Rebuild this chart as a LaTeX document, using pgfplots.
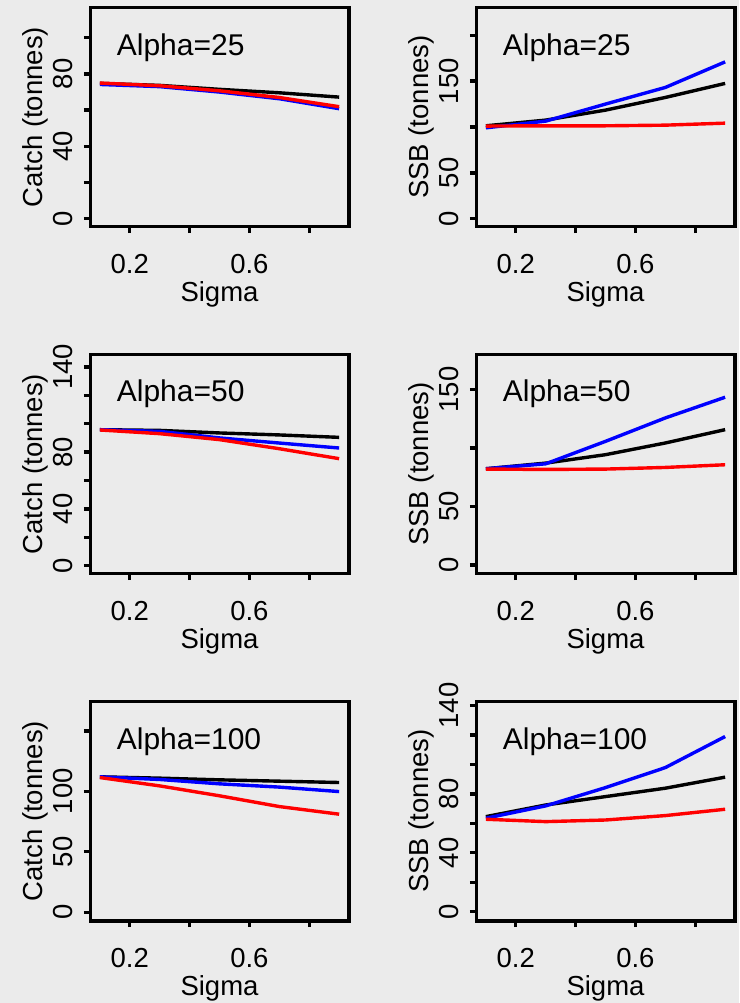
\documentclass[border=0pt]{standalone}
\usepackage{fontspec}
\setmainfont{Liberation Sans}
\usepackage{pgfplots}
\pgfplotsset{compat=1.18}
\definecolor{bgc}{HTML}{EBEBEB}
\definecolor{rblue}{RGB}{0,0,255}
\definecolor{rred}{RGB}{255,0,0}

\pgfplotsset{
  panel/.style={
    scale only axis, width=258.4pt, height=219.2pt,
    anchor=south west,
    xmin=0.068, xmax=0.932,
    xtick={0.2,0.4,0.6,0.8}, xticklabels={0.2,,0.6,},
    axis line style={line width=3.6pt, black},
    tick style={line width=3.3pt, black},
    major tick length=6.5pt, tick align=outside,
    xtick pos=left, ytick pos=left,
    tick label style={font=\fontsize{27.5}{30}\selectfont},
    yticklabel style={rotate=90, anchor=south, inner sep=0pt, yshift=11pt},
    xticklabel style={anchor=north, inner sep=0pt, yshift=-21pt},
    label style={font=\fontsize{27.5}{30}\selectfont},
    xlabel={Sigma},
    xlabel style={at={(axis description cs:0.5,0)}, anchor=base, inner sep=0pt, yshift=-75pt},
    ylabel style={at={(axis description cs:0,0.5)}, anchor=base, inner sep=0pt, yshift=48pt},
    every axis plot/.append style={line width=3.4pt, line join=round, mark=none},
  },
}
\newcommand{\alphatext}[1]{\node[anchor=base west, inner sep=0pt, font=\fontsize{30}{33}\selectfont] at (rel axis cs:0.102,0.783) {#1};}

\begin{document}
\begin{tikzpicture}
\fill[bgc] (0,0) rectangle (739pt,1003pt);
\useasboundingbox (0,0) rectangle (739pt,1003pt);

% row 1
\begin{axis}[panel, at={(90.3pt,776.3pt)},
  ymin=-4.5, ymax=116.8, ytick={0,20,...,100}, yticklabels={0,,40,,80,},
  ylabel={Catch (tonnes)}]
\addplot[black] coordinates {(0.1,74.8)(0.3,73.7)(0.5,71.5)(0.7,69.6)(0.9,67.2)};
\addplot[rblue] coordinates {(0.1,74.2)(0.3,73.0)(0.5,70.0)(0.7,66.3)(0.9,60.8)};
\addplot[rred] coordinates {(0.1,75.0)(0.3,73.5)(0.5,70.7)(0.7,67.0)(0.9,61.9)};
\alphatext{Alpha=25}
\end{axis}

\begin{axis}[panel, at={(476.3pt,776.3pt)},
  ymin=-8.7, ymax=230.3, ytick={0,50,...,200}, yticklabels={0,50,,150,},
  ylabel={SSB (tonnes)}]
\addplot[black] coordinates {(0.1,101.3)(0.3,107.5)(0.5,118.4)(0.7,132.2)(0.9,147.5)};
\addplot[rblue] coordinates {(0.1,99.1)(0.3,106.4)(0.5,125.0)(0.7,143.1)(0.9,171.0)};
\addplot[rred] coordinates {(0.1,101.0)(0.3,101.3)(0.5,101.3)(0.7,102.0)(0.9,104.2)};
\alphatext{Alpha=25}
\end{axis}

% row 2
\begin{axis}[panel, at={(90.3pt,429.4pt)},
  ymin=-5.5, ymax=148.8, ytick={0,20,...,140}, yticklabels={0,,40,,80,,,140},
  ylabel={Catch (tonnes)}]
\addplot[black] coordinates {(0.1,95.8)(0.3,95.3)(0.5,93.5)(0.7,92.1)(0.9,90.4)};
\addplot[rblue] coordinates {(0.1,95.8)(0.3,94.6)(0.5,90.0)(0.7,86.4)(0.9,82.9)};
\addplot[rred] coordinates {(0.1,95.6)(0.3,93.0)(0.5,88.8)(0.7,82.4)(0.9,75.4)};
\alphatext{Alpha=50}
\end{axis}

\begin{axis}[panel, at={(476.3pt,429.4pt)},
  ymin=-7.3, ymax=180, ytick={0,50,100,150}, yticklabels={0,50,,150},
  ylabel={SSB (tonnes)}]
\addplot[black] coordinates {(0.1,82.3)(0.3,87.1)(0.5,94.3)(0.7,104.3)(0.9,115.7)};
\addplot[rblue] coordinates {(0.1,82.3)(0.3,86.5)(0.5,105.7)(0.7,125.7)(0.9,143.4)};
\addplot[rred] coordinates {(0.1,82.0)(0.3,81.7)(0.5,82.0)(0.7,83.4)(0.9,85.7)};
\alphatext{Alpha=50}
\end{axis}

% row 3
\begin{axis}[panel, at={(90.3pt,82.3pt)},
  ymin=-7, ymax=174.3, ytick={0,50,100,150}, yticklabels={0,50,100,},
  ylabel={Catch (tonnes)}]
\addplot[black] coordinates {(0.1,112.0)(0.3,110.9)(0.5,109.5)(0.7,108.4)(0.9,107.3)};
\addplot[rblue] coordinates {(0.1,112.0)(0.3,109.8)(0.5,106.2)(0.7,103.5)(0.9,99.8)};
\addplot[rred] coordinates {(0.1,111.4)(0.3,104.5)(0.5,96.3)(0.7,87.4)(0.9,81.1)};
\alphatext{Alpha=100}
\end{axis}

\begin{axis}[panel, at={(476.3pt,82.3pt)},
  ymin=-6.1, ymax=142.8, ytick={0,20,...,140}, yticklabels={0,,40,,80,,,140},
  ylabel={SSB (tonnes)}]
\addplot[black] coordinates {(0.1,64.6)(0.3,72.5)(0.5,78.2)(0.7,83.9)(0.9,91.4)};
\addplot[rblue] coordinates {(0.1,63.5)(0.3,71.9)(0.5,84.3)(0.7,97.9)(0.9,119.0)};
\addplot[rred] coordinates {(0.1,62.8)(0.3,61.2)(0.5,62.3)(0.7,65.3)(0.9,69.6)};
\alphatext{Alpha=100}
\end{axis}
\end{tikzpicture}
\end{document}
